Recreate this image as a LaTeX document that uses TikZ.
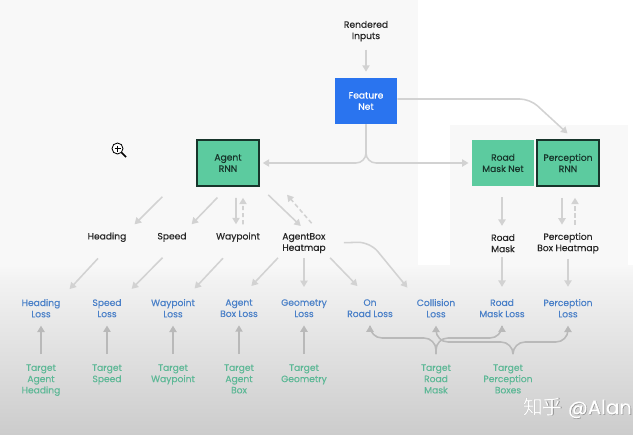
\documentclass[tikz,border=0pt]{standalone}
\usepackage{fontspec}
\setmainfont{Poppins}[FakeBold=.35]
\newfontfamily\cjkfont{Noto Sans CJK SC}
\usetikzlibrary{arrows.meta}
\definecolor{agreen}{HTML}{5CCB9F}
\definecolor{adark}{HTML}{17352B}
\definecolor{ablue}{HTML}{2A74EF}
\definecolor{lossblue}{HTML}{4A80C8}
\definecolor{targetgreen}{HTML}{5DB896}
\definecolor{flowgray}{HTML}{D2D2D2}
\definecolor{lowgray}{HTML}{B9B9B9}
\definecolor{pagegray}{HTML}{F8F8F8}
\tikzset{
  txt/.style={inner sep=0pt,align=center,font=\fontsize{6.5}{8}\selectfont,text=black!85,yshift=-.03cm},
  loss/.style={txt,text=lossblue},
  target/.style={txt,text=targetgreen},
  net/.style={minimum width=1.55cm,minimum height=1.15cm,inner sep=0pt,align=center,
    font=\fontsize{6.5}{8}\selectfont},
  greennet/.style={net,fill=agreen,text=adark},
  rnn/.style={greennet,draw=adark,line width=.8pt},
  flow/.style={draw=flowgray,line width=1.1pt,-{Triangle[length=.16cm,width=.18cm]}},
  flowlow/.style={flow,draw=lowgray},
  dashflow/.style={flow,densely dashed}
}
\begin{document}
\begin{tikzpicture}[x=.025cm,y=-.025cm]
\path[use as bounding box] (0,0) rectangle (633,435);
\clip (0,0) rectangle (633,435);
% background
\fill[white] (0,0) rectangle (633,435);
\fill[pagegray] (0,0) rectangle (418,265);
\fill[pagegray] (450,125) rectangle (628,265);
\fill[top color=pagegray,bottom color=black!5] (0,265) rectangle (633,280);
\fill[top color=black!5,bottom color=black!20] (0,280) rectangle (633,435);
% nets
\node[txt] (renderedinputs) at (366,30) {Rendered\\Inputs};
\node[net,fill=ablue,text=white] (featurenet) at (366,101) {Feature\\Net};
\node[rnn] (agentrnn) at (228,163) {Agent\\RNN};
\node[greennet] (roadmasknet) at (503,163) {Road\\Mask Net};
\node[rnn] (perceptionrnn) at (568,163) {Perception\\RNN};
% outputs
\node[txt] (heading) at (107,236) {Heading};
\node[txt] (speed) at (172,236) {Speed};
\node[txt] (waypoint) at (238,236) {Waypoint};
\node[txt,align=left] (heatmap) at (304,242) {AgentBox\\Heatmap};
\node[txt] (roadmask) at (503,242) {Road\\Mask};
\node[txt] (perceptionmap) at (568,242) {Perception\\Box Heatmap};
% losses
\node[loss] (headingloss) at (41,307) {Heading\\Loss};
\node[loss] (speedloss) at (107,307) {Speed\\Loss};
\node[loss] (waypointloss) at (173,307) {Waypoint\\Loss};
\node[loss] (agentboxloss) at (239,307) {Agent\\Box Loss};
\node[loss] (geometryloss) at (304,307) {Geometry\\Loss};
\node[loss] (onroadloss) at (370,307) {On\\Road Loss};
\node[loss] (collisionloss) at (436,307) {Collision\\Loss};
\node[loss] (roadmaskloss) at (502,307) {Road\\Mask Loss};
\node[loss] (perceptionloss) at (568,307) {Perception\\Loss};
% targets
\node[target,anchor=north] (targetheading) at (41,363) {Target\\Agent\\Heading};
\node[target,anchor=north] (targetspeed) at (107,363) {Target\\Speed};
\node[target,anchor=north] (targetwaypoint) at (173,363) {Target\\Waypoint};
\node[target,anchor=north] (targetbox) at (239,363) {Target\\Agent\\Box};
\node[target,anchor=north] (targetgeometry) at (304,363) {Target\\Geometry};
\node[target,anchor=north] (targetroadmask) at (436,363) {Target\\Road\\Mask};
\node[target,anchor=north] (targetboxes) at (508,363) {Target\\Perception\\Boxes};
% top arrows
\draw[flow,shorten <=.2cm,shorten >=.15cm] (renderedinputs.south) -- (featurenet.north);
\draw[flow,rounded corners=.25cm,shorten >=.08cm] (featurenet.south) |- (agentrnn.east);
\draw[flow,rounded corners=.25cm,shorten >=.08cm] (featurenet.south) |- (roadmasknet.west);
\coordinate (perceptionbend) at (530,99);
\draw[flow,rounded corners=.25cm,shorten >=.22cm] (featurenet.east |- perceptionbend) -- (perceptionbend) -- ([xshift=.15cm]perceptionrnn.north);
% agent arrows
\draw[flow,shorten <=1.2cm,shorten >=.28cm] (agentrnn.west) -- (heading.north east);
\draw[flow,shorten <=.38cm,shorten >=.28cm] (agentrnn.south) -- ([xshift=-.075cm]speed.north east);
\draw[flow,shorten <=.28cm,shorten >=.2cm] ([xshift=.2cm]agentrnn.south) -- ([xshift=-.05cm]waypoint.north);
\draw[dashflow,shorten <=.2cm,shorten >=.28cm] ([xshift=.125cm]waypoint.north) -- ([xshift=.375cm]agentrnn.south);
\draw[flow,shorten <=.3cm,shorten >=.25cm] (agentrnn.south east) -- ([xshift=.1cm]heatmap.north);
\draw[dashflow,shorten <=.32cm,shorten >=1.05cm] ([xshift=.4cm]heatmap.north) -- (agentrnn.east);
\draw[flow,shorten <=.28cm,shorten >=.2cm] ([xshift=-.025cm]roadmasknet.south) -- ([xshift=-.025cm]roadmask.north);
\draw[flow,shorten <=.28cm,shorten >=.2cm] ([xshift=-.15cm]perceptionrnn.south) -- ([xshift=-.15cm]perceptionmap.north);
\draw[dashflow,shorten <=.2cm,shorten >=.28cm] ([xshift=.175cm]perceptionmap.north) -- ([xshift=.175cm]perceptionrnn.south);
% output to loss
\draw[flow,shorten <=.55cm,shorten >=.33cm] ([xshift=.15cm]heading.south) -- (headingloss.north east);
\draw[flow,shorten <=.55cm,shorten >=.35cm] ([xshift=.15cm]speed.south) -- (speedloss.north east);
\draw[flow,shorten <=.55cm,shorten >=.35cm] (waypoint.south) -- ([xshift=.3cm]waypointloss.north);
\draw[flow,shorten <=.15cm,shorten >=.45cm] (heatmap.south west) -- (agentboxloss.north);
\draw[flow,shorten <=.12cm,shorten >=.3cm] (heatmap.south) -- (geometryloss.north);
\draw[flow,shorten <=.15cm,shorten >=.45cm] (heatmap.south east) -- (onroadloss.north);
\coordinate (collisionbend) at (370,242);
\draw[flow,rounded corners=.3cm,shorten <=.45cm,shorten >=.36cm] (heatmap.east) -- (collisionbend) -- (collisionloss.north west);
\draw[flow,shorten <=.12cm,shorten >=.3cm] ([xshift=-.025cm]roadmask.south) -- (roadmaskloss.north);
\draw[flow,shorten <=.12cm,shorten >=.3cm] (perceptionmap.south) -- (perceptionloss.north);
% target to loss
\foreach \tgt/\lss in {targetheading/headingloss,targetspeed/speedloss,targetwaypoint/waypointloss,targetbox/agentboxloss,targetgeometry/geometryloss}
  \draw[flowlow,shorten <=.25cm,shorten >=.2cm] (\tgt.north) -- (\lss.south);
\coordinate (roadjoin) at (436,338);
\coordinate (boxjoin) at (513,342);
\draw[flowlow,rounded corners=.3cm,shorten <=.25cm,shorten >=.2cm] (targetroadmask.north) -- (roadjoin) -| (onroadloss.south);
\draw[flowlow,rounded corners=.3cm,shorten <=.25cm,shorten >=.2cm] (targetroadmask.north) -- (roadjoin) -| (roadmaskloss.south);
\draw[flowlow,rounded corners=.3cm,shorten <=.25cm,shorten >=.2cm] ([xshift=.125cm]targetboxes.north) -- (boxjoin) -| (collisionloss.south);
\draw[flowlow,rounded corners=.3cm,shorten <=.25cm,shorten >=.2cm] ([xshift=.125cm]targetboxes.north) -- (boxjoin) -| (perceptionloss.south);
% cursor and watermark
\draw[line width=.6pt,fill=white] (117.5,148.5) circle (5.5);
\draw[line width=.5pt] (114.5,148.5) -- (120.5,148.5) (117.5,145.5) -- (117.5,151.5);
\draw[line width=1.2pt] (121.5,152.5) -- (126,157);
\node[inner sep=0pt,anchor=west,text=black!45,font=\fontsize{14}{16}\selectfont] (markshadow) at (523.6,408.6) {{\cjkfont 知乎} @Alan};
\node[inner sep=0pt,anchor=west,text=white,font=\fontsize{14}{16}\selectfont] (mark) at (523,408) {{\cjkfont 知乎} @Alan};
\end{tikzpicture}
\end{document}
